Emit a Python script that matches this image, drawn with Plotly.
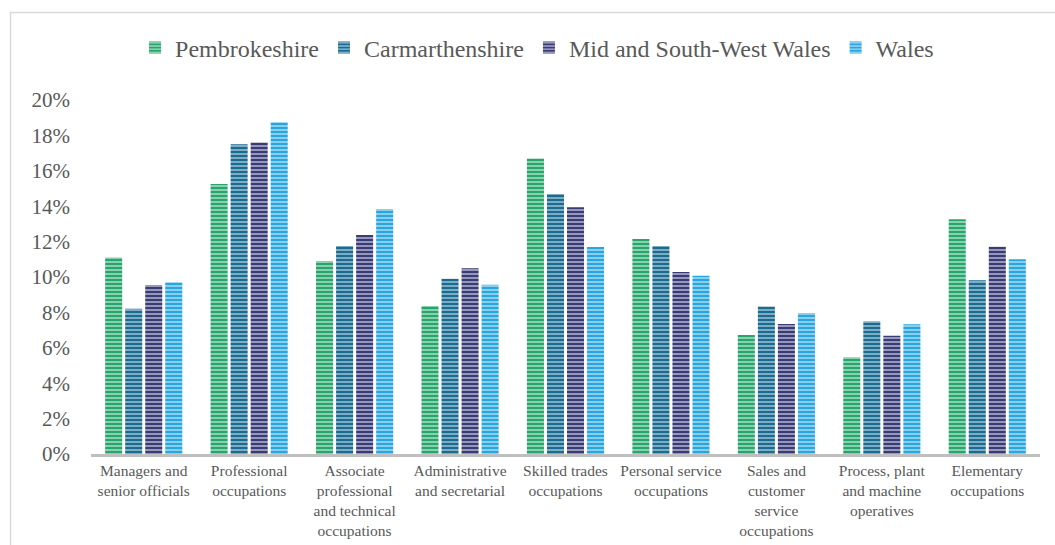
import plotly.graph_objects as go

categories = [
    "Managers and<br>senior officials",
    "Professional<br>occupations",
    "Associate<br>professional<br>and technical<br>occupations",
    "Administrative<br>and secretarial",
    "Skilled trades<br>occupations",
    "Personal service<br>occupations",
    "Sales and<br>customer<br>service<br>occupations",
    "Process, plant<br>and machine<br>operatives",
    "Elementary<br>occupations",
]

pembrokeshire = [11.1, 15.25, 10.9, 8.36, 16.7, 12.15, 6.72, 5.46, 13.26]
carmarthenshire = [8.2, 17.5, 11.75, 9.9, 14.69, 11.75, 8.34, 7.5, 9.81]
mid_sw_wales = [9.55, 17.6, 12.37, 10.49, 13.94, 10.28, 7.34, 6.68, 11.71]
wales = [9.7, 18.75, 13.84, 9.56, 11.69, 10.07, 7.97, 7.33, 11.0]

series = [
    ("Pembrokeshire", pembrokeshire, "#28a46e", "#93d6b4"),
    ("Carmarthenshire", carmarthenshire, "#1d6a8f", "#86b6cc"),
    ("Mid and South-West Wales", mid_sw_wales, "#393b72", "#a0a2c6"),
    ("Wales", wales, "#27a7e0", "#95d3f1"),
]

fig = go.Figure()
for name, vals, base, light in series:
    fig.add_trace(go.Bar(
        name=name,
        x=categories,
        y=vals,
        marker=dict(
            color=base,
            line=dict(width=0),
            pattern=dict(shape="-", bgcolor=base, fgcolor=light,
                         size=4, solidity=0.45, fillmode="replace"),
        ),
        hovertemplate="%{y:.1f}%<extra>" + name + "</extra>",
    ))

W, H = 1055, 545
L, R, T, B = 91, 15, 100, 91
pw = W - L - R
ph = H - T - B

def px_x(x):
    return (x - L) / pw

def px_y(y):
    return (H - B - y) / ph

gray_text = "#595959"
serif = "Liberation Serif"

fig.update_layout(
    width=W, height=H,
    margin=dict(l=L, r=R, t=T, b=B, autoexpand=False),
    paper_bgcolor="white",
    plot_bgcolor="white",
    barmode="group",
    bargap=0.24,
    bargroupgap=0.15,
    font=dict(family=serif, color=gray_text),
    legend=dict(
        orientation="h",
        x=0.47, xanchor="center",
        y=px_y(48), yanchor="middle",
        font=dict(size=24, family=serif, color=gray_text),
        itemsizing="constant",
        traceorder="normal",
        bgcolor="rgba(0,0,0,0)",
    ),
    xaxis=dict(
        tickfont=dict(size=15.5, family=serif, color=gray_text),
        showline=True, linecolor="#bfbfbf", linewidth=3,
        ticks="", showgrid=False, tickangle=0,
    ),
    yaxis=dict(
        range=[0, 20],
        dtick=2,
        ticksuffix="%",
        tickfont=dict(size=21, family=serif, color=gray_text),
        showgrid=False, zeroline=False, showline=False,
        ticks="", ticklabelstandoff=20,
    ),
    shapes=[
        dict(type="line", xref="paper", yref="paper",
             x0=px_x(10.5), x1=px_x(10.5), y0=px_y(12), y1=px_y(545),
             line=dict(color="#d9d9d9", width=1.5)),
        dict(type="line", xref="paper", yref="paper",
             x0=px_x(10), x1=px_x(1055), y0=px_y(12.5), y1=px_y(12.5),
             line=dict(color="#d9d9d9", width=1.5)),
    ],
)

fig.write_html("out.html")
